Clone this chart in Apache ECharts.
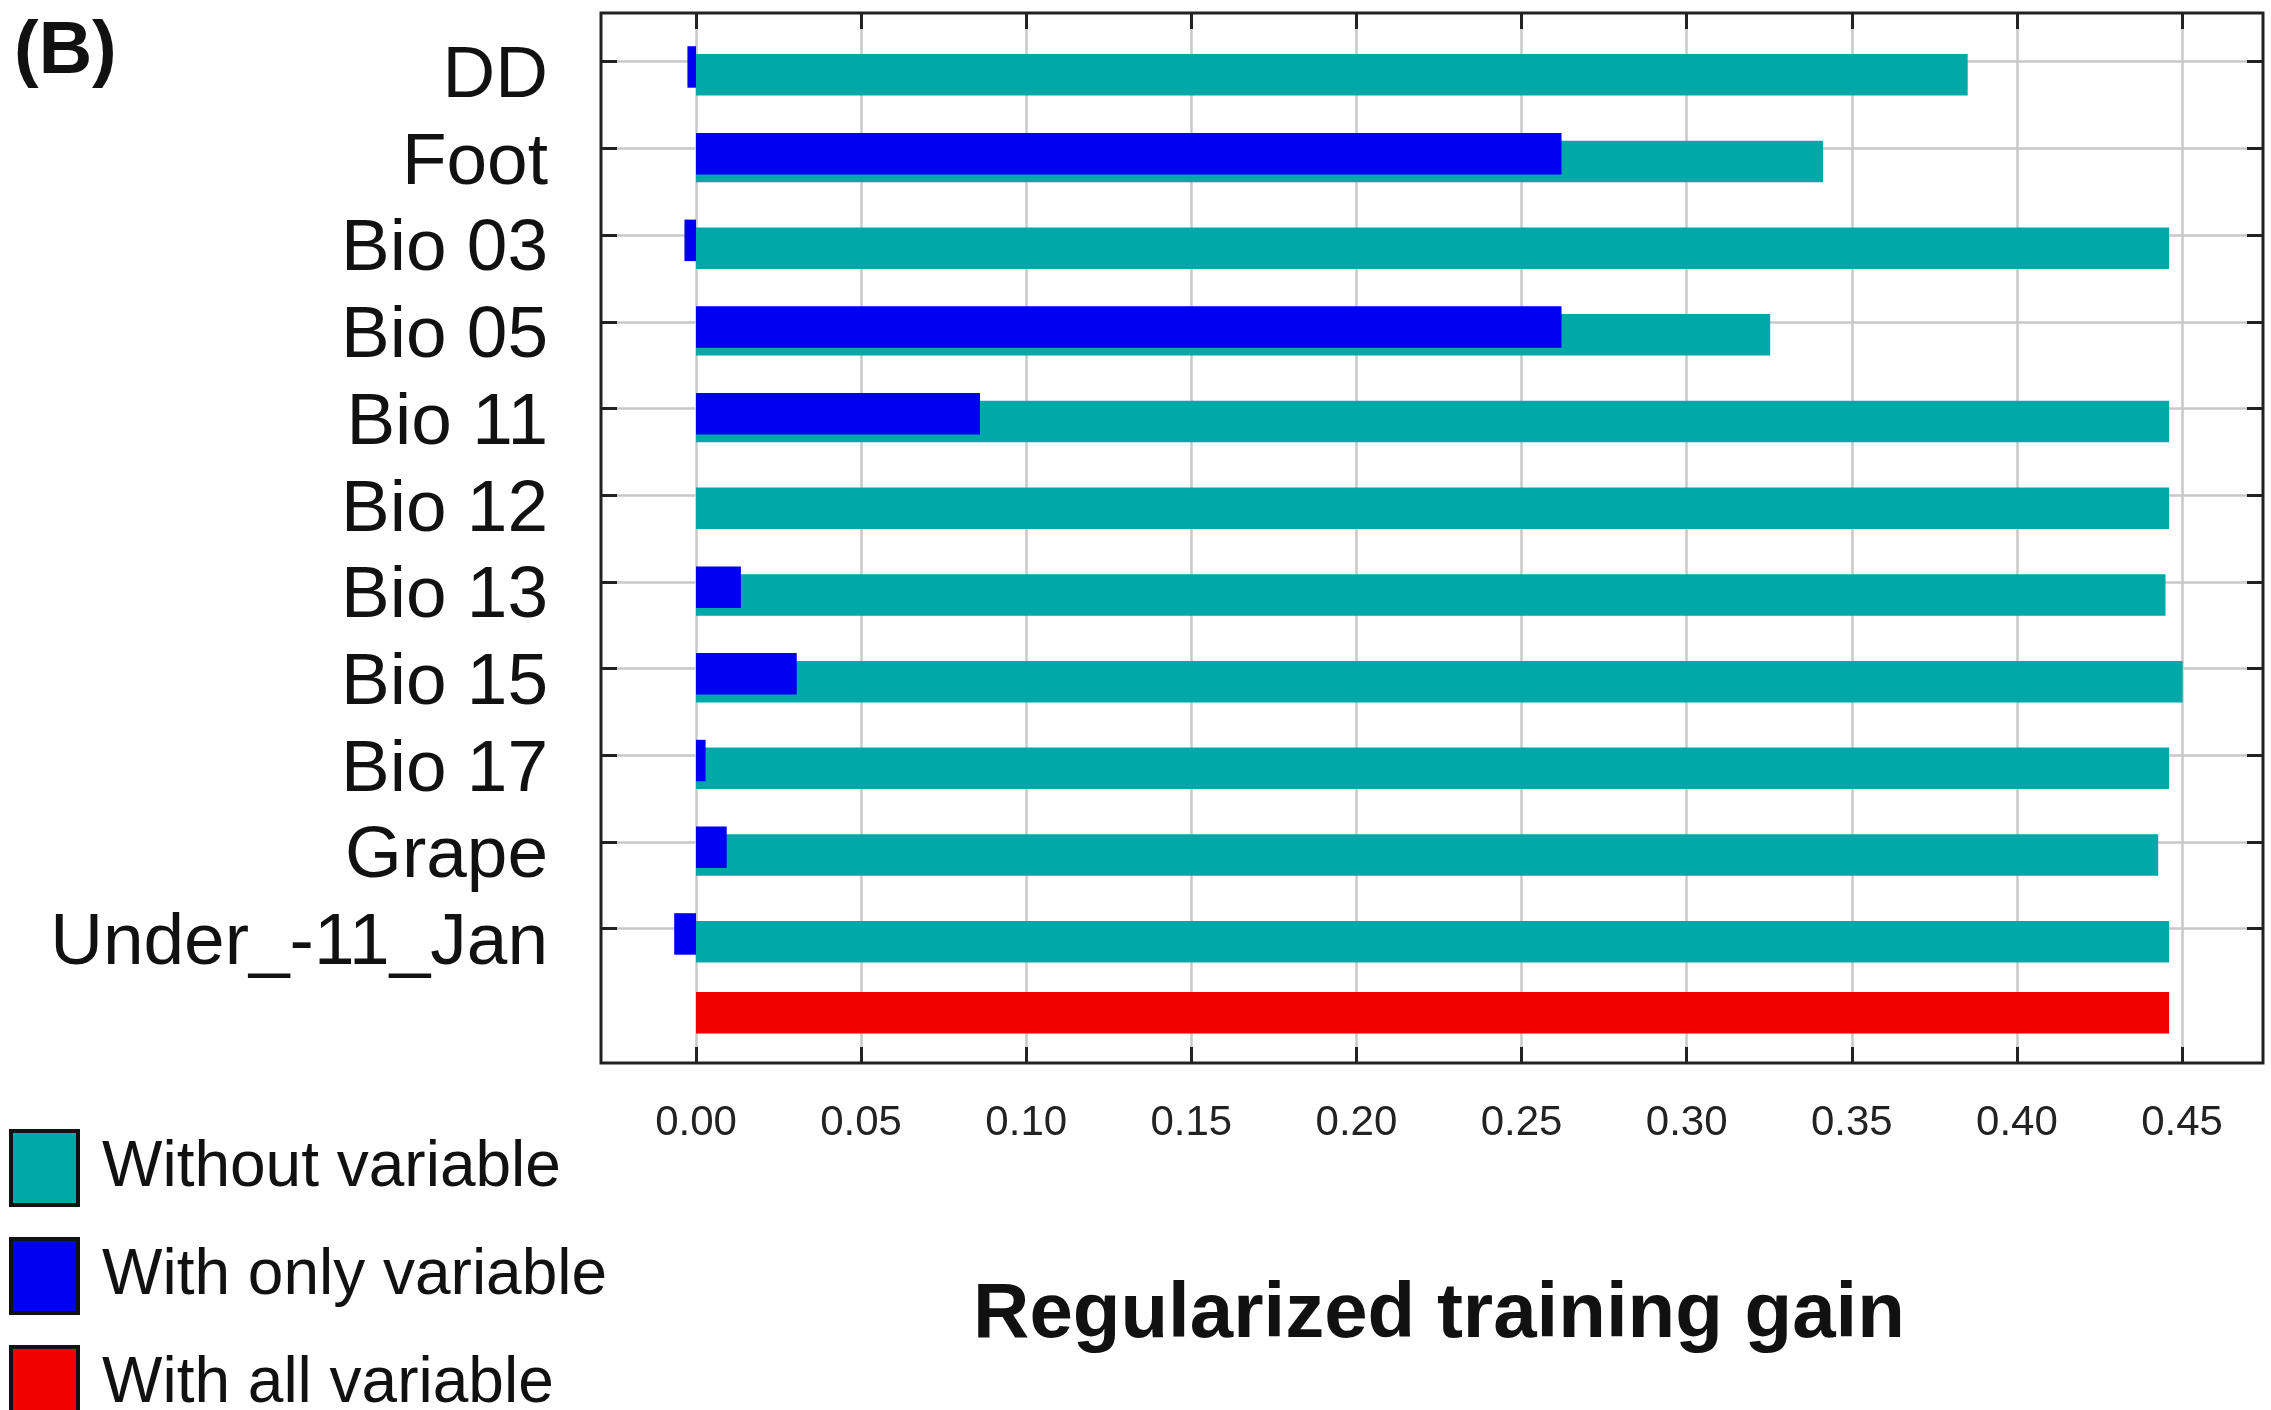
<!DOCTYPE html>
<html>
<head>
<meta charset="utf-8">
<title>Jackknife of regularized training gain</title>
<script src="https://cdn.jsdelivr.net/npm/echarts@6/dist/echarts.min.js"></script>
<style>
  html, body { margin: 0; padding: 0; background: #ffffff; }
  #chart { width: 2271px; height: 1410px; }
</style>
</head>
<body>
<div id="chart"></div>
<script>
// Variables tested in the jackknife (top to bottom); the last row holds the full model
const variables = ['DD', 'Foot', 'Bio 03', 'Bio 05', 'Bio 11', 'Bio 12', 'Bio 13', 'Bio 15', 'Bio 17', 'Grape', 'Under_-11_Jan'];

// Regularized training gain of the model without each variable
const withoutVariable = [0.3851, 0.3413, 0.4461, 0.3253, 0.4461, 0.4461, 0.4450, 0.4502, 0.4461, 0.4428, 0.4461];

// Regularized training gain of the model built with only that variable
const withOnlyVariable = [-0.0026, 0.2621, -0.0035, 0.2621, 0.0860, 0.0000, 0.0136, 0.0305, 0.0029, 0.0093, -0.0066];

// Regularized training gain with all variables
const withAllVariables = 0.4461;

// Gain axis
const gainMin = 0;
const gainMax = 0.45;
const gainStep = 0.05;

const seriesNames = ['Without variable', 'With only variable', 'With all variable'];
const colors = { without: '#00a8a8', only: '#0000f0', all: '#f20000' };

const rows = variables.concat(['']);
const blank = '-';
const tealData = withoutVariable.concat([blank]);
const blueData = withOnlyVariable.concat([blank]);
const redData = variables.map(() => blank).concat([withAllVariables]);

const font = "'Liberation Sans', Arial, Helvetica, sans-serif";
const ink = '#111111';
const frameColor = '#222222';
const gridColor = '#c8c8c8';

const chart = echarts.init(document.getElementById('chart'), null, { renderer: 'canvas' });

chart.setOption({
  animation: false,
  backgroundColor: '#ffffff',
  textStyle: { fontFamily: font, color: ink },
  title: {
    text: '(B)',
    left: 14,
    top: 16,
    padding: 0,
    textStyle: { fontFamily: font, fontSize: 74, fontWeight: 'bold', color: ink }
  },
  legend: {
    orient: 'vertical',
    left: 9,
    top: 1129,
    height: 400,
    padding: 0,
    itemWidth: 67,
    itemHeight: 74,
    itemGap: 30,
    icon: 'rect',
    selectedMode: false,
    itemStyle: { borderColor: ink, borderWidth: 4 },
    textStyle: { fontFamily: font, fontSize: 64, lineHeight: 64, color: ink, padding: [0, 0, 0, 19] },
    data: seriesNames
  },
  grid: [
    // frame of the plot area
    { left: 601, right: 8, top: 13, bottom: 347, show: true, borderColor: frameColor, borderWidth: 3, backgroundColor: 'transparent' },
    // gain scale: vertical grid, ticks and labels
    { left: 696, right: 89, top: 13, bottom: 347 },
    // bars and variable names
    { left: 696, right: 89, top: 23.6, bottom: 346, containLabel: false },
    // horizontal grid lines and row ticks
    { left: 601, right: 8, top: 61.7, bottom: 481.4 }
  ],
  xAxis: [
    {
      gridIndex: 1, type: 'value', position: 'bottom',
      min: gainMin, max: gainMax, interval: gainStep,
      axisLine: { show: false },
      axisTick: { show: true, inside: true, length: 16, lineStyle: { color: frameColor, width: 3 } },
      axisLabel: {
        show: true, margin: 39, fontFamily: font, fontSize: 42, color: '#222',
        formatter: v => v.toFixed(2)
      },
      splitLine: { show: true, lineStyle: { color: gridColor, width: 2.5 } },
      name: 'Regularized training gain',
      nameLocation: 'middle',
      nameGap: 213,
      nameTextStyle: { fontFamily: font, fontSize: 78, fontWeight: 'bold', color: ink }
    },
    {
      gridIndex: 1, type: 'value', position: 'top',
      min: gainMin, max: gainMax, interval: gainStep,
      axisLine: { show: false },
      axisTick: { show: true, inside: true, length: 16, lineStyle: { color: frameColor, width: 3 } },
      axisLabel: { show: false },
      splitLine: { show: false }
    },
    {
      gridIndex: 2, type: 'value', min: gainMin, max: gainMax, show: false,
      splitLine: { show: false }
    },
    {
      gridIndex: 3, type: 'value', min: 0, max: 1, show: false,
      splitLine: { show: false }
    }
  ],
  yAxis: [
    { gridIndex: 1, type: 'value', min: 0, max: 1, show: false, splitLine: { show: false } },
    {
      gridIndex: 2, type: 'category', data: rows, inverse: true,
      axisLine: { show: false },
      axisTick: { show: false },
      splitLine: { show: false },
      axisLabel: {
        show: true, interval: 0, margin: 148, fontFamily: font, fontSize: 73, color: ink,
        verticalAlign: 'top', lineHeight: 20
      }
    },
    {
      gridIndex: 3, type: 'value', min: 0, max: 10, interval: 1, inverse: true, position: 'left',
      axisLine: { show: false },
      axisTick: { show: true, inside: true, length: 16, lineStyle: { color: frameColor, width: 3 } },
      axisLabel: { show: false },
      splitLine: { show: true, lineStyle: { color: gridColor, width: 2.5 } }
    },
    {
      gridIndex: 3, type: 'value', min: 0, max: 10, interval: 1, inverse: true, position: 'right',
      axisLine: { show: false },
      axisTick: { show: true, inside: true, length: 16, lineStyle: { color: frameColor, width: 3 } },
      axisLabel: { show: false },
      splitLine: { show: false }
    }
  ],
  series: [
    {
      name: seriesNames[2], type: 'bar', xAxisIndex: 2, yAxisIndex: 1,
      data: redData, barWidth: 41.5, barGap: '-81.2%', clip: false,
      itemStyle: { color: colors.all }, z: 2, silent: true
    },
    {
      name: seriesNames[1], type: 'bar', xAxisIndex: 2, yAxisIndex: 1,
      data: blueData, barWidth: 41.5, barGap: '-81.2%', clip: false,
      itemStyle: { color: colors.only }, z: 4, silent: true
    },
    {
      name: seriesNames[0], type: 'bar', xAxisIndex: 2, yAxisIndex: 1,
      data: tealData, barWidth: 41.5, barGap: '-81.2%', clip: false,
      itemStyle: { color: colors.without }, z: 3, silent: true
    }
  ]
});
</script>
</body>
</html>
